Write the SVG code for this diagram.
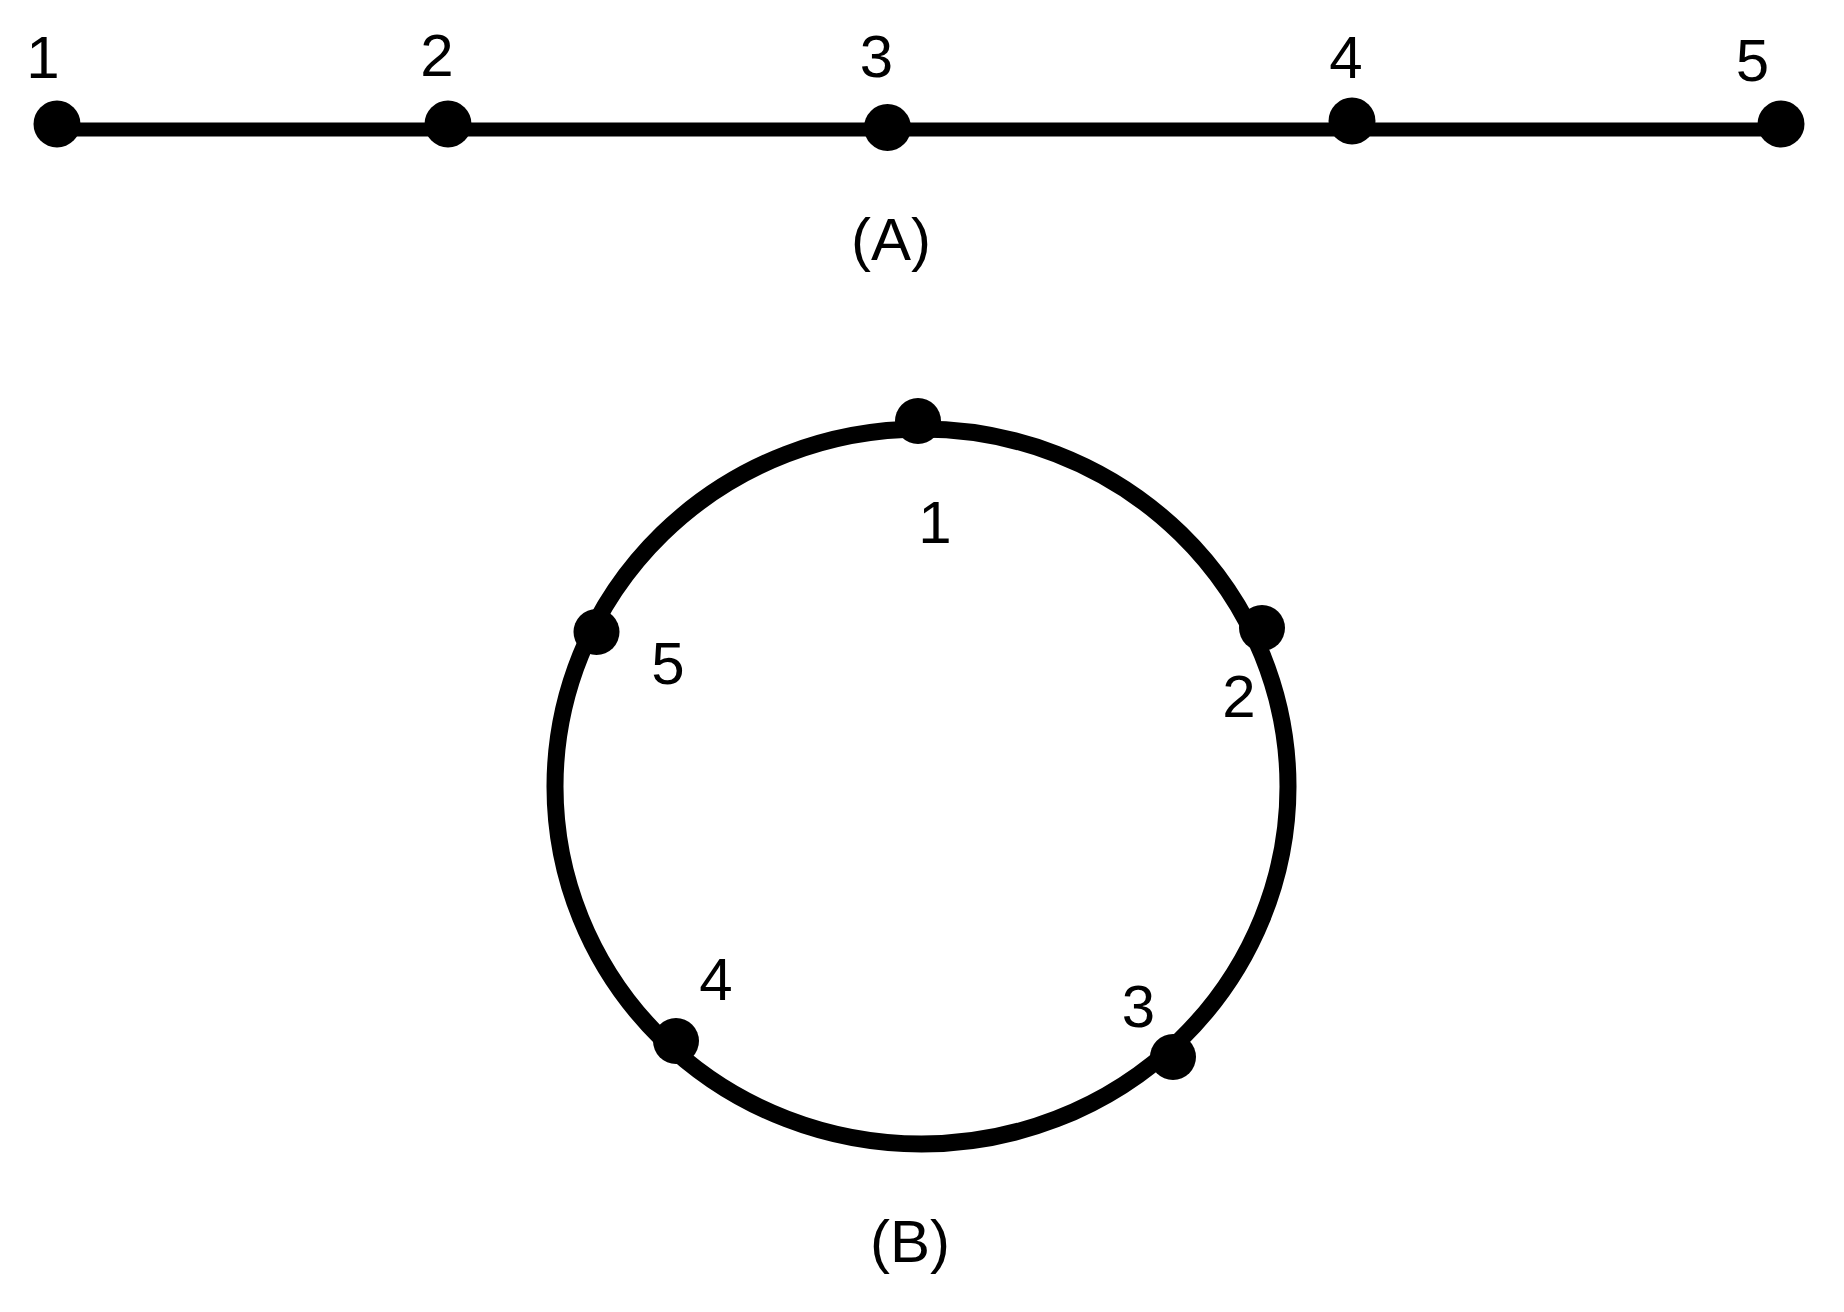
<svg xmlns="http://www.w3.org/2000/svg" width="1844" height="1312" viewBox="0 0 1844 1312">
<style>
.bg{fill:#ffffff}
.edge{fill:none;stroke:#000;stroke-width:14}
.ring{fill:none;stroke:#000;stroke-width:17}
.dot{fill:#000}
.lbl{font-family:"Liberation Sans","Noto Sans",Arial,sans-serif;font-size:60px;fill:#000;text-anchor:middle}
</style>
<rect class="bg" x="0" y="0" width="1844" height="1312"/>
<g id="connectors">
  <line class="edge" x1="57" y1="129.5" x2="1781" y2="129.5"/>
  <ellipse class="ring" cx="921.5" cy="786.5" rx="366.5" ry="357.5"/>
</g>
<g id="A-node-1"><circle class="dot" cx="57" cy="124" r="23.5"/><text class="lbl" x="43" y="78">1</text></g>
<g id="A-node-2"><circle class="dot" cx="448" cy="124" r="23.5"/><text class="lbl" x="437" y="76">2</text></g>
<g id="A-node-3"><circle class="dot" cx="887.5" cy="127.5" r="23.5"/><text class="lbl" x="876.5" y="77">3</text></g>
<g id="A-node-4"><circle class="dot" cx="1352" cy="121" r="23.5"/><text class="lbl" x="1346" y="78">4</text></g>
<g id="A-node-5"><circle class="dot" cx="1781" cy="124" r="23.5"/><text class="lbl" x="1752.5" y="81">5</text></g>
<g id="label-A"><text class="lbl" x="891" y="260">(A)</text></g>
<g id="B-node-1"><circle class="dot" cx="918" cy="421" r="23"/><text class="lbl" x="935" y="543">1</text></g>
<g id="B-node-2"><circle class="dot" cx="1262" cy="628" r="23"/><text class="lbl" x="1239" y="717">2</text></g>
<g id="B-node-3"><circle class="dot" cx="1173" cy="1057" r="23"/><text class="lbl" x="1138.5" y="1027">3</text></g>
<g id="B-node-4"><circle class="dot" cx="676" cy="1041" r="23"/><text class="lbl" x="716" y="1000">4</text></g>
<g id="B-node-5"><circle class="dot" cx="596.5" cy="632" r="23"/><text class="lbl" x="668" y="684">5</text></g>
<g id="label-B"><text class="lbl" x="910" y="1262">(B)</text></g>
</svg>
